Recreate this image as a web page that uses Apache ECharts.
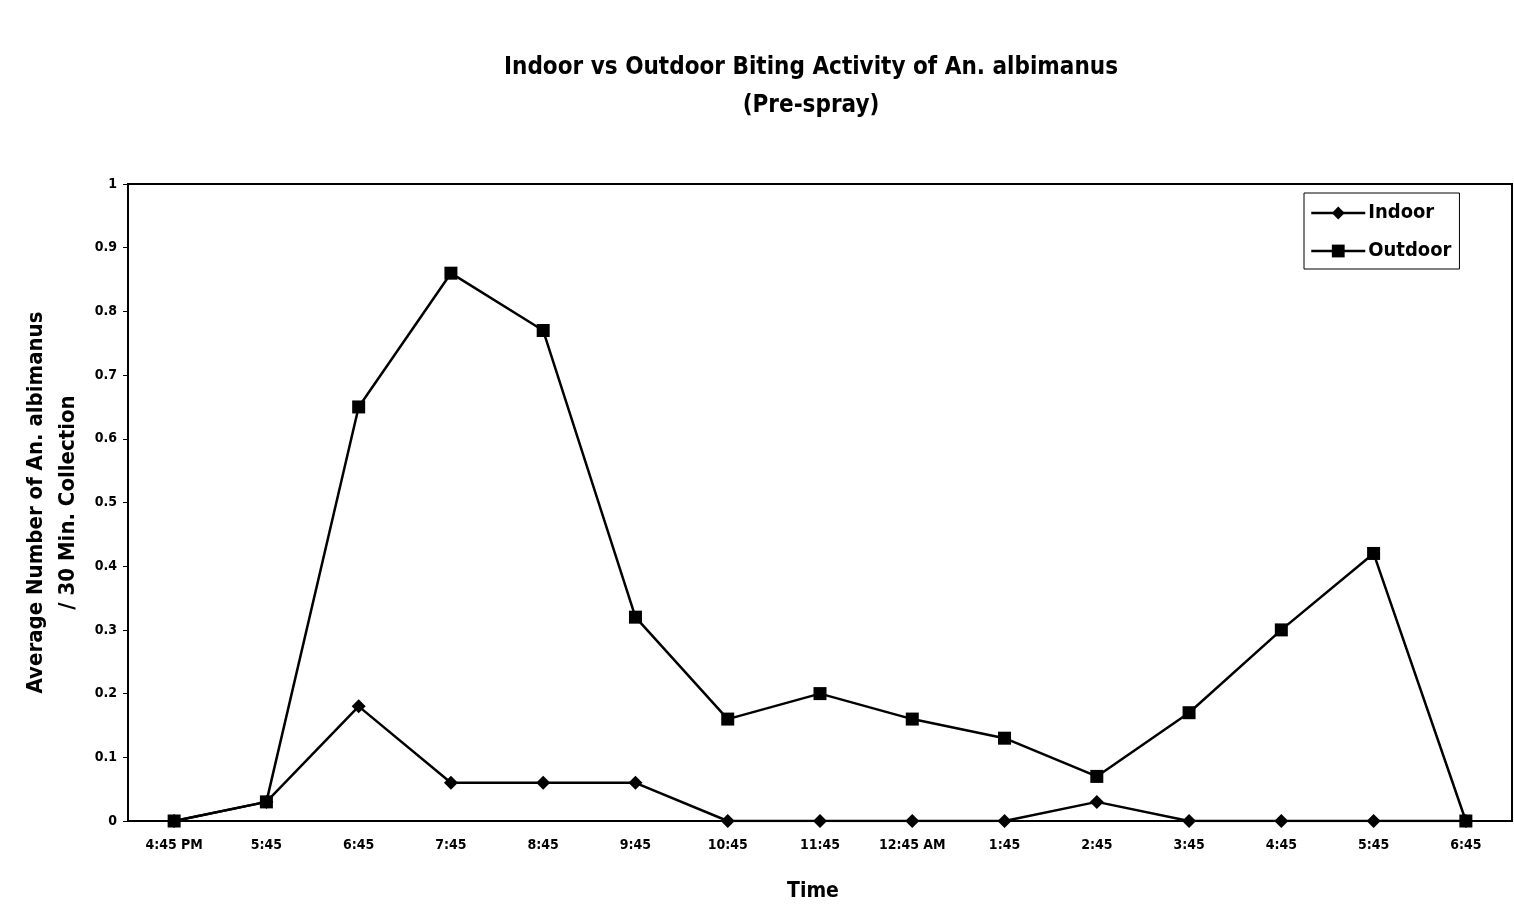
<!DOCTYPE html>
<html><head><meta charset="utf-8">
<script src="https://cdn.jsdelivr.net/npm/echarts@6/dist/echarts.min.js"></script>
<style>html,body{margin:0;padding:0;background:#fff}#c{width:1514px;height:923px}</style>
</head><body><div id="c"></div>
<script>
const categories = ['4:45 PM','5:45','6:45','7:45','8:45','9:45','10:45','11:45','12:45 AM','1:45','2:45','3:45','4:45','5:45','6:45'];
const indoor  = [0, 0.03, 0.18, 0.06, 0.06, 0.06, 0, 0, 0, 0, 0.03, 0, 0, 0, 0];
const outdoor = [0, 0.03, 0.65, 0.86, 0.77, 0.32, 0.16, 0.20, 0.16, 0.13, 0.07, 0.17, 0.30, 0.42, 0];
const yTicks = [0, 0.1, 0.2, 0.3, 0.4, 0.5, 0.6, 0.7, 0.8, 0.9, 1];

const FONT = '"DejaVu Sans Condensed", "Liberation Sans Narrow", "Liberation Sans", sans-serif';
const chart = echarts.init(document.getElementById('c'));
chart.setOption({
  backgroundColor: '#fff',
  animation: false,
  textStyle: { fontFamily: FONT, color: '#000' },
  title: {
    text: 'Indoor vs Outdoor Biting Activity of An. albimanus\n(Pre-spray)',
    left: 806, top: 44, textAlign: 'center',
    textStyle: { fontFamily: FONT, fontWeight: 'bold', fontSize: 24, lineHeight: 38, color: '#000' }
  },
  legend: {
    orient: 'vertical', left: 1304, top: 193,
    data: ['Indoor', 'Outdoor'],
    borderColor: '#000', borderWidth: 1, padding: [10, 8, 8, 6],
    itemGap: 18, itemWidth: 54, itemHeight: 16,
    lineStyle: { width: 2.5 },
    textStyle: { fontFamily: FONT, fontWeight: 'bold', fontSize: 20, color: '#000', padding: [0, 0, 0, -2] }
  },
  grid: { left: 128, top: 184, width: 1384, height: 637, show: true, borderColor: '#000', borderWidth: 2, outerBoundsMode: 'none', containLabel: false },
  xAxis: {
    type: 'category', data: categories, boundaryGap: true,
    name: 'Time', nameLocation: 'middle', nameGap: 60,
    nameTextStyle: { fontFamily: FONT, fontWeight: 'bold', fontSize: 21, color: '#000', padding: [0, 14, 0, 0] },
    axisLine: { lineStyle: { color: '#000', width: 2 } },
    axisTick: { inside: true, length: 5, lineStyle: { color: '#000' } },
    axisLabel: { fontFamily: FONT, fontWeight: 'bold', fontSize: 14, color: '#000', margin: 17, interval: 0 }
  },
  yAxis: {
    type: 'value', min: 0, max: 1, interval: 0.1,
    name: 'Average Number of An. albimanus\n/ 30 Min. Collection',
    nameLocation: 'middle', nameRotate: 90, nameGap: 36,
    nameTextStyle: { fontFamily: FONT, fontWeight: 'bold', fontSize: 22, lineHeight: 32, color: '#000' },
    axisLine: { show: true, lineStyle: { color: '#000', width: 2 } },
    axisTick: { show: true, inside: false, length: 5, lineStyle: { color: '#000' } },
    splitLine: { show: false },
    axisLabel: { fontFamily: FONT, fontWeight: 'bold', fontSize: 14, color: '#000', margin: 11,
      formatter: v => { const t = yTicks.find(x => Math.abs(x - v) < 1e-9); return t === undefined ? '' : String(t); } }
  },
  series: [
    { name: 'Indoor', type: 'line', data: indoor, symbol: 'diamond', symbolSize: 14,
      lineStyle: { color: '#000', width: 2.5 }, itemStyle: { color: '#000' }, z: 2 },
    { name: 'Outdoor', type: 'line', data: outdoor, symbol: 'rect', symbolSize: 13,
      lineStyle: { color: '#000', width: 2.5 }, itemStyle: { color: '#000' }, z: 3 }
  ]
});
</script></body></html>
